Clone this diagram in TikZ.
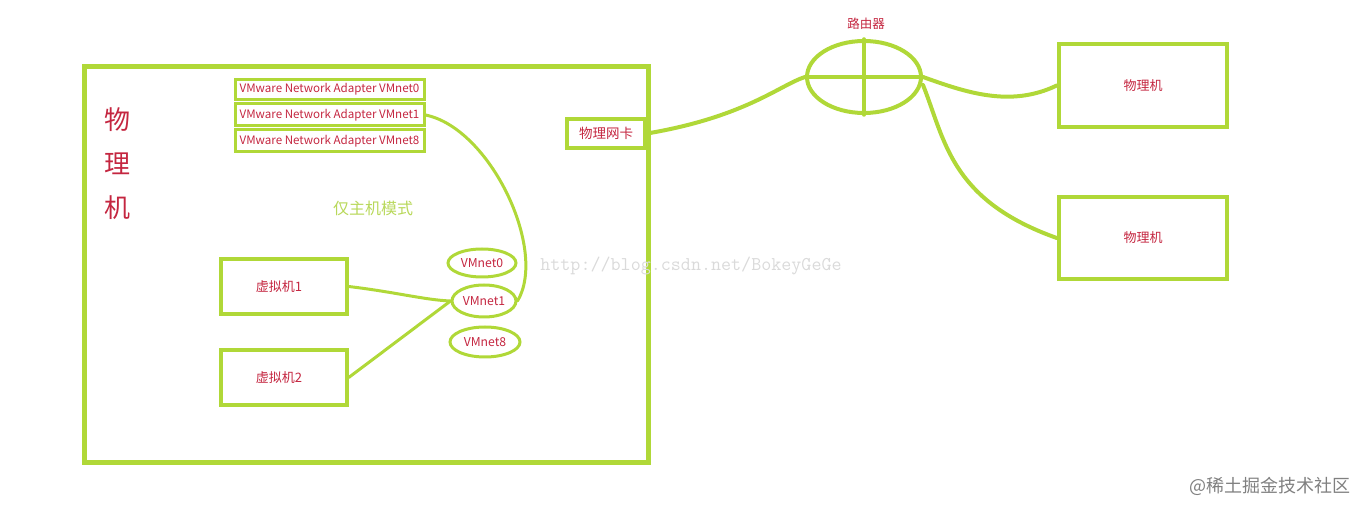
\documentclass[tikz,border=0pt]{standalone}
\usepackage{fontspec}
\setmainfont{Noto Sans CJK SC}
\usetikzlibrary{shapes.geometric}
\definecolor{lgreen}{RGB}{176,216,56}
\definecolor{tred}{RGB}{196,38,64}
\definecolor{tgreen}{RGB}{184,216,90}
\definecolor{wgray}{RGB}{218,218,218}
\tikzset{
  box/.style={draw=lgreen, line width=3.5pt, inner sep=0pt, rectangle, font=\fontsize{13}{13}\selectfont, text=tred},
  adapter/.style={draw=lgreen, line width=3pt, inner sep=0pt, rectangle, minimum width=189pt, minimum height=20pt, font=\fontsize{11.6}{11.6}\selectfont, text=tred},
  vnet/.style={draw=lgreen, line width=3pt, inner sep=0pt, ellipse, font=\fontsize{12.2}{12.2}\selectfont, text=tred},
  link/.style={draw=lgreen, line width=3.5pt, line cap=round},
}
\begin{document}
\begin{tikzpicture}[x=1pt,y=-1pt]
\useasboundingbox (0,0) rectangle (1366,510);
% physical host
\node[draw=lgreen, line width=5pt, minimum width=564pt, minimum height=396pt, inner sep=0pt] (host) at (366,265) {};
\node[text=tred, font=\fontsize{26}{44}\selectfont, align=center] (hostlbl) at (117,164) {物\\理\\机};
\node[text=tgreen, font=\fontsize{16}{16}\selectfont] (mode) at (373,208) {仅主机模式};
% adapters
\node[adapter] (a0) at (329.5,89.5) {VMware Network Adapter VMnet0};
\node[adapter, minimum height=22pt] (a1) at (329.5,115) {VMware Network Adapter VMnet1};
\node[adapter, minimum height=22pt] (a8) at (329.5,141) {VMware Network Adapter VMnet8};
% virtual machines
\node[box, minimum width=126pt, minimum height=55pt] (vm1) at (284,286.5) {\hspace*{-10pt}虚拟机1};
\node[box, minimum width=126pt, minimum height=55pt] (vm2) at (284,377.5) {\hspace*{-10pt}虚拟机2};
% vmnets
\node[vnet, minimum width=68pt, minimum height=28pt] (v0) at (482,263) {VMnet0};
\node[vnet, minimum width=64pt, minimum height=32pt] (v1) at (484,301) {VMnet1};
\node[vnet, minimum width=70pt, minimum height=30pt] (v8) at (485,342) {VMnet8};
% NIC
\node[box, line width=4pt, minimum width=78pt, minimum height=29pt, font=\fontsize{13.5}{13.5}\selectfont] (nic) at (606,133.5) {物理网卡};
% router
\node[draw=lgreen, line width=4pt, ellipse, minimum width=114pt, minimum height=72pt, inner sep=0pt] (router) at (864,77) {};
\draw[link] (router.west) -- (router.east);
\draw[link] (router.north) -- (router.south);
\node[text=tred, font=\fontsize{12.5}{12.5}\selectfont] (routerlbl) at (866,24) {路由器};
% right hosts
\node[box, line width=4.5pt, minimum width=168pt, minimum height=83pt] (pc1) at (1143,85.5) {物理机};
\node[box, line width=4.5pt, minimum width=168pt, minimum height=82pt] (pc2) at (1143,238) {物理机};
% links
\draw[link, line width=3pt] (a1.east) .. controls (490,128) and (548,250) .. (v1.east);
\draw[link, line width=3pt] (vm1.east) .. controls (395,292) and (425,300) .. (v1.west);
\draw[link, line width=3pt] (vm2.east) -- (v1.west);
\draw[link, line width=4pt] (nic.east) .. controls (745,117) and (780,85) .. (router.west);
\draw[link, line width=4pt] (router.east) .. controls (965,92) and (1010,108) .. (pc1.west);
\draw[link, line width=4pt] ([yshift=-8pt]router.east) .. controls (945,140) and (950,200) .. (pc2.west);
% watermarks
\node[text=wgray, font=\ttfamily\fontsize{19.5}{19.5}\selectfont] (wm1) at (691,266) {http://blog.csdn.net/BokeyGeGe};
\node[text=gray, font=\fontsize{18}{18}\selectfont] (wm2) at (1270,486) {@稀土掘金技术社区};
\end{tikzpicture}
\end{document}
